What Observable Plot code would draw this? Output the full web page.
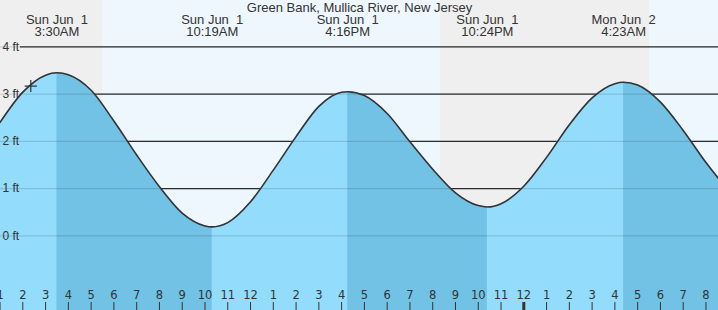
<!DOCTYPE html>
<html>
<head>
<meta charset="utf-8">
<script src="https://cdn.jsdelivr.net/npm/d3@7"></script>
<script src="https://cdn.jsdelivr.net/npm/@observablehq/plot@0.6"></script>
<style>
  html, body { margin: 0; padding: 0; background: #fff; }
  svg text { white-space: pre; }
</style>
</head>
<body>
<div id="chart"></div>
<script>
// Hours since midnight Sun Jun 1, tide height in feet
const tideHours = [1, 2, 3, 3.5, 4, 5, 6, 7, 8, 9, 10, 10.317, 11, 12, 13, 14, 15, 16, 16.267,
  17, 18, 19, 20, 21, 22, 22.4, 23, 24, 25, 26, 27, 28, 28.383, 29, 30, 31, 32, 33];
const tideFeet = [2.40, 3.04, 3.40, 3.45, 3.41, 3.08, 2.43, 1.71, 1.04, 0.48, 0.21, 0.19, 0.28, 0.72, 1.39, 2.10, 2.74, 3.04, 3.05,
  2.97, 2.59, 1.99, 1.41, 0.91, 0.64, 0.61, 0.68, 1.05, 1.66, 2.35, 2.92, 3.22, 3.25, 3.19, 2.83, 2.23, 1.55, 0.95];

const extremeHours = [3.5, 10.317, 16.267, 22.4, 28.383];
const extremeLabels = ["Sun Jun  1\n3:30AM", "Sun Jun  1\n10:19AM", "Sun Jun  1\n4:16PM", "Sun Jun  1\n10:24PM", "Mon Jun  2\n4:23AM"];

const fallStart = [3.5, 16.267, 28.383];
const fallEnd = [10.317, 22.4, 33];

const bandStart = [1.02, 5.53, 20.34, 29.52];
const bandEnd = [5.53, 20.34, 29.52, 32.55];
const bandKind = ["night", "day", "night", "day"];

const gridFeet = [0, 1, 2, 3, 4];
const gridLabels = ["0 ft", "1 ft", "2 ft", "3 ft", "4 ft"];

const hourTicks = [1,2,3,4,5,6,7,8,9,10,11,12,13,14,15,16,17,18,19,20,21,22,23,24,25,26,27,28,29,30,31,32];
const hourLabels = ["1","2","3","4","5","6","7","8","9","10","11","12","1","2","3","4","5","6","7","8","9","10","11","12","1","2","3","4","5","6","7","8"];
const midnightHours = [24];

const markerHour = [2.35];
const markerFeet = [3.17];

const title = "Green Bank, Mullica River, New Jersey";

const xDomain = [1.02, 32.55];
const yDomain = [-1.58, 4.98];

const tide = tideHours.map((h, i) => ({h, v: tideFeet[i]}));
const falling = [];
fallStart.forEach((s, k) => {
  tide.forEach(d => { if (d.h >= s && d.h <= fallEnd[k]) falling.push({...d, seg: k}); });
});
const bands = bandStart.map((s, i) => ({s, e: bandEnd[i], kind: bandKind[i]}));
const extremes = extremeHours.map((h, i) => ({h, label: extremeLabels[i]}));
const grid = gridFeet.map((f, i) => ({f, label: gridLabels[i]}));
const hoursData = hourTicks.map((h, i) => ({h, label: hourLabels[i]}));
const marker = markerHour.map((h, i) => ({h, v: markerFeet[i]}));

const LIGHT = "#94dcfc", DARK = "#72c2e6", INK = "#333333";

const chart = Plot.plot({
  width: 718,
  height: 310,
  margin: 0,
  style: {fontFamily: "'Liberation Sans', Arial, sans-serif", fontSize: "13px", color: INK, background: "#fff", overflow: "visible"},
  x: {domain: xDomain, axis: null},
  y: {domain: yDomain, axis: null},
  color: {domain: ["night", "day"], range: ["#efefef", "#eef7fe"]},
  marks: [
    Plot.rect(bands, {x1: "s", x2: "e", fill: "kind"}),
    Plot.ruleY(grid, {y: "f", stroke: INK, strokeWidth: 1.3, insetLeft: 20}),
    Plot.areaY(tide, {x: "h", y1: yDomain[0], y2: "v", fill: LIGHT, curve: "monotone-x"}),
    Plot.areaY(falling, {x: "h", y1: yDomain[0], y2: "v", z: "seg", fill: DARK, curve: "monotone-x"}),
    Plot.ruleY(grid, {y: "f", stroke: "#000", strokeOpacity: 0.13, strokeWidth: 1.3}),
    Plot.lineY(tide, {x: "h", y: "v", stroke: INK, strokeWidth: 1.6, curve: "monotone-x"}),
    Plot.dot(marker, {x: "h", y: "v", symbol: "plus", r: 4, stroke: INK, strokeWidth: 1.2}),
    Plot.text(grid, {y: "f", text: "label", frameAnchor: "left", dx: 2, textAnchor: "start", fill: INK, fontSize: 12}),
    Plot.text(extremes, {x: "h", text: "label", frameAnchor: "top", dy: 26, lineAnchor: "middle", lineHeight: 0.923, fill: INK, fontSize: 13}),
    Plot.text([title], {text: d => d, frameAnchor: "top", dy: 7.1, lineAnchor: "middle", fill: INK, fontSize: 13}),
    Plot.text(hoursData, {x: "h", text: "label", frameAnchor: "bottom", dy: -15, lineAnchor: "middle", fill: INK, fontSize: 11.5, fontFamily: "'DejaVu Sans', sans-serif"}),
    Plot.ruleX(hoursData, {x: "h", stroke: INK, strokeWidth: 1, insetTop: 302}),
    Plot.ruleX(midnightHours, {x: d => d, stroke: INK, strokeWidth: 3, insetTop: 302})
  ]
});
document.getElementById("chart").appendChild(chart);
</script>
</body>
</html>
